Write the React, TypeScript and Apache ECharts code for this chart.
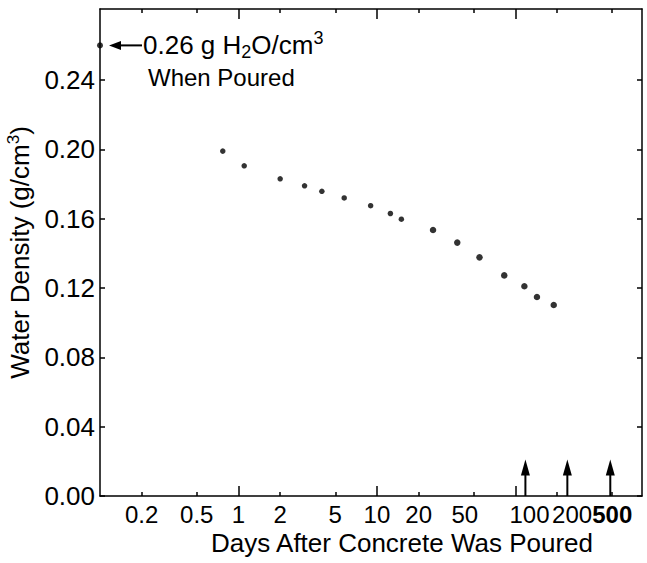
import React, { useEffect, useRef } from "react";
import * as echarts from "echarts";

// Measurements: days after pouring vs water density (g/cm^3)
const days = [0.77, 1.1, 2.0, 3.0, 4.0, 5.8, 9.0, 12.5, 15, 25.4, 38, 55, 83, 116, 143, 189];
const density = [0.199, 0.1905, 0.183, 0.179, 0.1758, 0.172, 0.1675, 0.163, 0.1597, 0.1535, 0.1462, 0.1377, 0.1273, 0.121, 0.1148, 0.1102];

// Initial density when poured (drawn at the left edge of the axis)
const pouredDay = 0.1;
const pouredDensity = 0.26;

// Arrows marking particular days
const arrowDays = [118, 237, 484];
const arrowHeight = 0.021;

// Axis ticks / labels
const xLabelValues = [0.2, 0.5, 1, 2, 5, 10, 20, 50, 100, 200, 500];
const xLabelTexts = ["0.2", "0.5", "1", "2", "5", "10", "20", "50", "100", "200", "500"];
const xMajorTicks = [1, 10, 100];
const xMinorTicks = [0.2, 0.5, 2, 5, 20, 50, 200, 500];
const yLabelValues = [0, 0.04, 0.08, 0.12, 0.16, 0.2, 0.24];

const xTitle = "Days After Concrete Was Poured";

const FONT = "Liberation Sans, Arial, Helvetica, sans-serif";
const FS = 26;
const XFS = 24;

// small horizontal nudges of crowded tick labels (pixels)
const labelNudge = (t: string) => (t === "50" ? -9 : t === "100" ? 14 : t === "200" ? 15 : 0);

export default function App() {
  const ref = useRef<HTMLDivElement>(null);
  useEffect(() => {
    if (!ref.current) return;
    const chart = echarts.init(ref.current, null, { renderer: "svg" });
    const xMin = 0.1;
    const xMax = 820;
    const lineStyle = { color: "#000", width: 1.5 };
    const baseX = {
      type: "log" as const,
      logBase: 10,
      min: xMin,
      max: xMax,
      splitLine: { show: false },
      minorTick: { show: false },
      minorSplitLine: { show: false },
    };
    const option: any = {
      animation: false,
      backgroundColor: "#fff",
      textStyle: { fontFamily: FONT },
      grid: {
        left: 100,
        right: 5,
        top: 9,
        bottom: 67,
        containLabel: false,
        outerBoundsMode: "none",
      },
      xAxis: [
        {
          ...baseX,
          position: "bottom",
          axisLine: { show: true, lineStyle },
          axisTick: { show: true, inside: true, length: 10, customValues: xMajorTicks, lineStyle },
          axisLabel: { show: false },
        },
        {
          ...baseX,
          position: "bottom",
          axisLine: { show: false },
          axisTick: { show: true, inside: true, length: 4, customValues: xMinorTicks, lineStyle },
          axisLabel: { show: false },
        },
        {
          ...baseX,
          position: "top",
          axisLine: { show: true, lineStyle },
          axisTick: { show: true, inside: true, length: 10, customValues: xMajorTicks, lineStyle },
          axisLabel: { show: false },
        },
        {
          ...baseX,
          position: "top",
          axisLine: { show: false },
          axisTick: { show: true, inside: true, length: 4, customValues: xMinorTicks, lineStyle },
          axisLabel: { show: false },
        },
      ],
      yAxis: [
        {
          type: "value",
          position: "left",
          min: 0,
          max: 0.281,
          interval: 0.04,
          splitLine: { show: false },
          axisLine: { show: true, lineStyle },
          axisTick: { show: true, inside: true, length: 5, customValues: yLabelValues, lineStyle },
          axisLabel: {
            customValues: yLabelValues,
            hideOverlap: false,
            margin: 5,
            color: "#000",
            fontSize: FS,
            fontFamily: FONT,
            formatter: (v: number) => v.toFixed(2),
          },
          name: "Water Density (g/cm{sup|3})",
          nameLocation: "middle",
          nameGap: 56,
          nameTextStyle: {
            fontSize: FS,
            color: "#000",
            fontFamily: FONT,
            rich: {
              sup: { fontSize: 17, color: "#000", fontFamily: FONT, padding: [0, 0, 13, 0] },
            },
          },
        },
        {
          type: "value",
          position: "right",
          min: 0,
          max: 0.281,
          interval: 0.04,
          splitLine: { show: false },
          axisLine: { show: true, lineStyle },
          axisTick: { show: true, inside: true, length: 5, customValues: yLabelValues, lineStyle },
          axisLabel: { show: false },
        },
      ],
      series: [
        {
          type: "scatter",
          xAxisIndex: 0,
          yAxisIndex: 0,
          data: days.map((d, i) => [d, density[i]]),
          symbol: "circle",
          symbolSize: (_v: any, p: any) => (p.dataIndex < 9 ? 5.5 : 6.5),
          itemStyle: { color: "#000" },
          clip: false,
        },
        {
          type: "scatter",
          xAxisIndex: 0,
          yAxisIndex: 0,
          data: [[pouredDay, pouredDensity]],
          symbolSize: 6,
          itemStyle: { color: "#000" },
          clip: false,
          z: 5,
        },
        {
          type: "custom",
          xAxisIndex: 0,
          yAxisIndex: 0,
          clip: false,
          data: [[pouredDay, pouredDensity]],
          renderItem: (_params: any, api: any) => {
            const p = api.coord([api.value(0), api.value(1)]);
            const x = p[0];
            const y = p[1];
            return {
              type: "group",
              children: [
                {
                  type: "line",
                  shape: { x1: x + 18, y1: y, x2: x + 42, y2: y },
                  style: { stroke: "#000", lineWidth: 2 },
                },
                {
                  type: "polygon",
                  shape: { points: [[x + 9, y], [x + 21, y - 4.5], [x + 21, y + 4.5]] },
                  style: { fill: "#000" },
                },
                {
                  type: "text",
                  x: x + 43,
                  y: y,
                  style: {
                    text: "{t|0.26 g H}{sub|2}{t|O/cm}{sup|3}",
                    fill: "#000",
                    fontFamily: FONT,
                    fontSize: FS,
                    verticalAlign: "middle",
                    align: "left",
                    rich: {
                      t: { fontSize: FS, fontFamily: FONT, fill: "#000", lineHeight: 32 },
                      sub: { fontSize: 18, fontFamily: FONT, fill: "#000", lineHeight: 18, verticalAlign: "bottom" },
                      sup: { fontSize: 18, fontFamily: FONT, fill: "#000", lineHeight: 18, verticalAlign: "top" },
                    },
                  },
                },
                {
                  type: "text",
                  x: x + 48,
                  y: y + 32,
                  style: {
                    text: "When Poured",
                    fill: "#000",
                    fontFamily: FONT,
                    fontSize: 24,
                    verticalAlign: "middle",
                    align: "left",
                  },
                },
              ],
            };
          },
        },
        {
          type: "custom",
          xAxisIndex: 0,
          yAxisIndex: 0,
          clip: false,
          data: arrowDays.map((d) => [d, arrowHeight]),
          renderItem: (_params: any, api: any) => {
            const p0 = api.coord([api.value(0), 0]);
            const p1 = api.coord([api.value(0), api.value(1)]);
            return {
              type: "group",
              children: [
                {
                  type: "line",
                  shape: { x1: p0[0], y1: p0[1], x2: p1[0], y2: p1[1] + 12 },
                  style: { stroke: "#000", lineWidth: 2 },
                },
                {
                  type: "polygon",
                  shape: { points: [[p1[0], p1[1]], [p1[0] - 4.5, p1[1] + 16], [p1[0] + 4.5, p1[1] + 16]] },
                  style: { fill: "#000" },
                },
              ],
            };
          },
        },
      ],
    };
    chart.setOption(option);

    // Tick labels and axis title: positions obtained from the chart's own x scale
    const labelEls: any[] = xLabelValues.map((v, i) => {
      const p = chart.convertToPixel({ xAxisIndex: 0, yAxisIndex: 0 }, [v, 0]) as number[];
      const t = xLabelTexts[i];
      return {
        type: "text",
        id: "xl" + i,
        x: p[0] + labelNudge(t),
        y: p[1] + 6,
        silent: true,
        style: {
          text: t,
          fill: "#000",
          fontFamily: FONT,
          fontSize: XFS,
          fontWeight: t === "500" ? "bold" : "normal",
          align: "center",
          verticalAlign: "top",
        },
      };
    });
    labelEls.push({
      type: "text",
      id: "xtitle",
      x: 402,
      y: 530,
      silent: true,
      style: {
        text: xTitle,
        fill: "#000",
        fontFamily: FONT,
        fontSize: FS,
        align: "center",
        verticalAlign: "top",
      },
    });
    chart.setOption({ graphic: labelEls });
    return () => chart.dispose();
  }, []);
  return (
    <div
      ref={ref}
      style={{ position: "absolute", left: 0, top: 0, width: 647, height: 563, background: "#fff" }}
    />
  );
}
